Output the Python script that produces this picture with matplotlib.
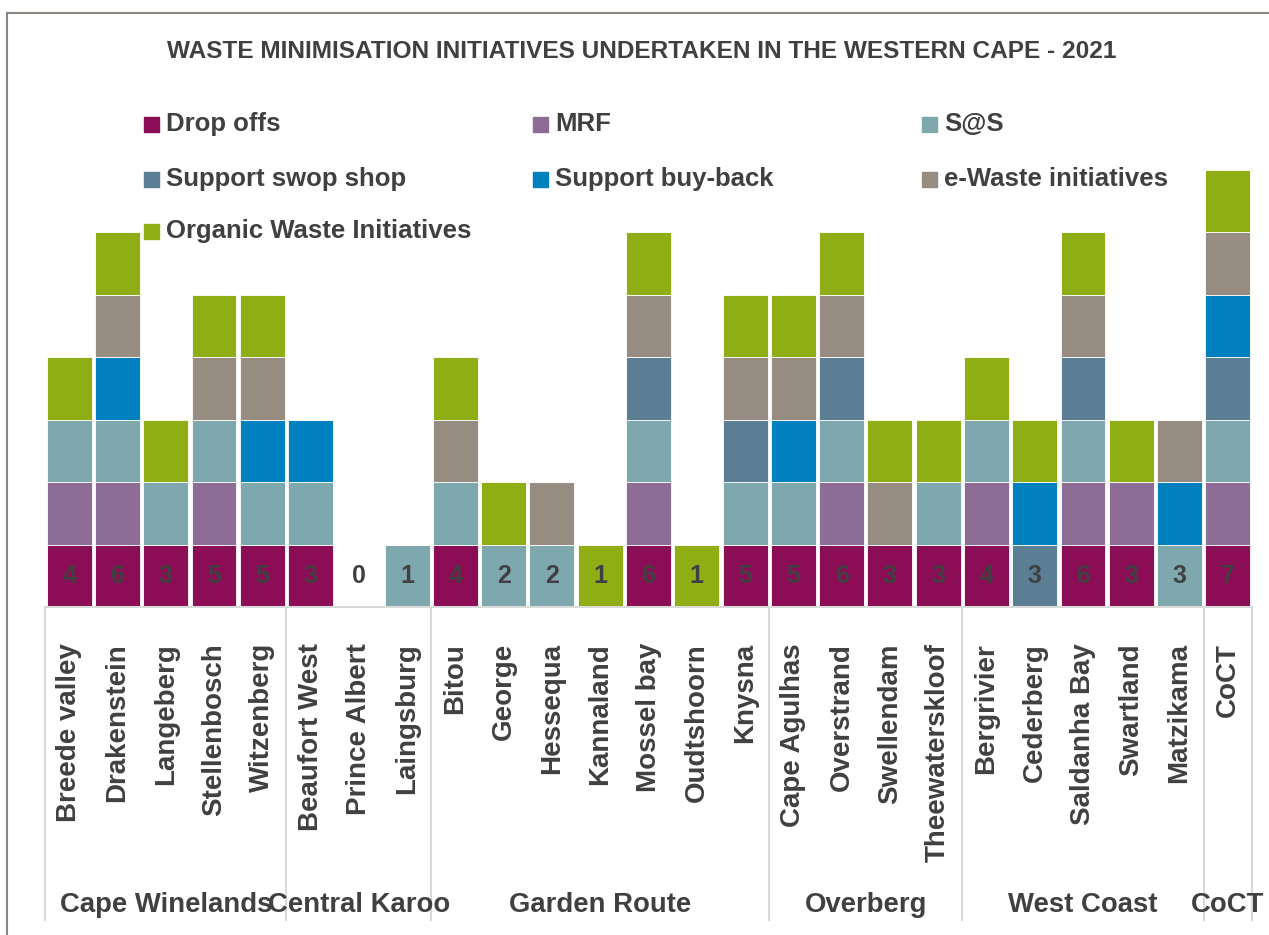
import numpy as np
import matplotlib.pyplot as plt
from matplotlib.transforms import blended_transform_factory
from matplotlib.patches import Rectangle
from matplotlib.lines import Line2D

plt.rcParams['font.family'] = ['Liberation Sans', 'DejaVu Sans']

municipalities = ["Breede valley", "Drakenstein", "Langeberg", "Stellenbosch", "Witzenberg",
                  "Beaufort West", "Prince Albert", "Laingsburg",
                  "Bitou", "George", "Hessequa", "Kannaland", "Mossel bay", "Oudtshoorn", "Knysna",
                  "Cape Agulhas", "Overstrand", "Swellendam", "Theewaterskloof",
                  "Bergrivier", "Cederberg", "Saldanha Bay", "Swartland", "Matzikama",
                  "CoCT"]
regions = ["Cape Winelands", "Central Karoo", "Garden Route", "Overberg", "West Coast", "CoCT"]
region_sizes = [5, 3, 7, 4, 5, 1]

drop_offs = [1, 1, 1, 1, 1, 1, 0, 0, 1, 0, 0, 0, 1, 0, 1, 1, 1, 1, 1, 1, 0, 1, 1, 0, 1]
mrf       = [1, 1, 0, 1, 0, 0, 0, 0, 0, 0, 0, 0, 1, 0, 0, 0, 1, 0, 0, 1, 0, 1, 1, 0, 1]
sas       = [1, 1, 1, 1, 1, 1, 0, 1, 1, 1, 1, 0, 1, 0, 1, 1, 1, 0, 1, 1, 0, 1, 0, 1, 1]
swop_shop = [0, 0, 0, 0, 0, 0, 0, 0, 0, 0, 0, 0, 1, 0, 1, 0, 1, 0, 0, 0, 1, 1, 0, 0, 1]
buy_back  = [0, 1, 0, 0, 1, 1, 0, 0, 0, 0, 0, 0, 0, 0, 0, 1, 0, 0, 0, 0, 1, 0, 0, 1, 1]
e_waste   = [0, 1, 0, 1, 1, 0, 0, 0, 1, 0, 1, 0, 1, 0, 1, 1, 1, 1, 0, 0, 0, 1, 0, 1, 1]
organic   = [1, 1, 1, 1, 1, 0, 0, 0, 1, 1, 0, 1, 1, 1, 1, 1, 1, 1, 1, 1, 1, 1, 1, 0, 1]

series = [("Drop offs", drop_offs, "#8B0D56"),
          ("MRF", mrf, "#8D6D96"),
          ("S@S", sas, "#7FA8AE"),
          ("Support swop shop", swop_shop, "#5B7E95"),
          ("Support buy-back", buy_back, "#0080BF"),
          ("e-Waste initiatives", e_waste, "#978C81"),
          ("Organic Waste Initiatives", organic, "#8FAD15")]

W, H = 1269, 935
fig = plt.figure(figsize=(W / 100, H / 100), dpi=100)
ax_left, ax_right, ax_base = 45, 1252, 607
unit = 62.5
ax = fig.add_axes([ax_left / W, 1 - ax_base / H, (ax_right - ax_left) / W, 8 * unit / H])

x = np.arange(len(municipalities))
bottom = np.zeros(len(x))
for name, vals, col in series:
    ax.bar(x, vals, bottom=bottom, width=0.93, color=col, edgecolor='white', linewidth=0.6)
    bottom += np.array(vals)

totals = bottom
for xi, t in zip(x, totals):
    ax.text(xi, 0.5, f"{int(t)}", ha='center', va='center', fontsize=18,
            fontweight='bold', color='#404040')

ax.set_xlim(-0.5, len(x) - 0.5)
ax.set_ylim(0, 8)
ax.set_yticks([])
for s in ['top', 'right', 'left']:
    ax.spines[s].set_visible(False)
ax.spines['bottom'].set_color('#D9D9D9')
ax.spines['bottom'].set_linewidth(1.5)
ax.set_xticks(x, municipalities, rotation=90, fontsize=20, fontweight='bold', color='#404040')
ax.tick_params(axis='x', length=0, pad=26)

# group separators and region labels
tr = blended_transform_factory(ax.transData, fig.transFigure)
y_top, y_bot = 1 - ax_base / H, 1 - 920 / H
edges = np.concatenate([[0], np.cumsum(region_sizes)]) - 0.5
for e in edges:
    ax.add_line(Line2D([e, e], [y_top, y_bot], transform=tr, color='#D9D9D9', lw=1.5, clip_on=False))
for name, a, b in zip(regions, edges[:-1], edges[1:]):
    ax.text((a + b) / 2, 1 - 905 / H, name, transform=tr, ha='center', va='center',
            fontsize=19.8, fontweight='bold', color='#404040')

# title
fig.text(642 / W, 1 - 52 / H, "WASTE MINIMISATION INITIATIVES UNDERTAKEN IN THE WESTERN CAPE - 2021",
         ha='center', va='center', fontsize=17.6, fontweight='bold', color='#404040')

# legend (row-wise, 3 columns like the original)
col_x = [144, 533, 922]
row_y = [124, 179, 231]
for i, (name, vals, col) in enumerate(series):
    r, c = divmod(i, 3)
    mx, my = col_x[c], row_y[r]
    fig.patches.append(Rectangle((mx / W, 1 - (my + 8) / H), 15 / W, 15 / H,
                                 transform=fig.transFigure, color=col))
    fig.text((mx + 22) / W, 1 - my / H, name, ha='left', va='center',
             fontsize=18.5, fontweight='bold', color='#404040')

# outer border
fig.add_artist(Line2D([7 / W, 1], [1 - 13 / H, 1 - 13 / H], transform=fig.transFigure, color='#8C8580', lw=1.5))
fig.add_artist(Line2D([7 / W, 7 / W], [1 - 13 / H, 0], transform=fig.transFigure, color='#8C8580', lw=1.5))

fig.savefig("out.png", dpi=100)
